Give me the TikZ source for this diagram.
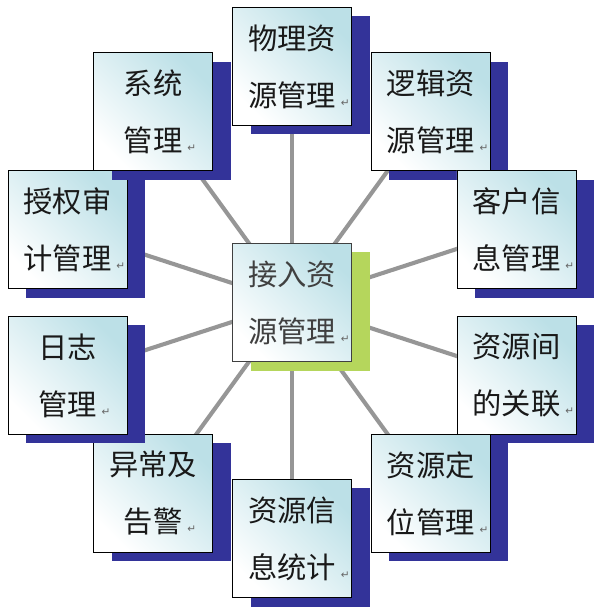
\documentclass[tikz,border=0pt]{standalone}
\usepackage{fontspec}
\newfontfamily\cjk{Noto Sans CJK SC}
\newfontfamily\dejavu{DejaVu Sans}
\usetikzlibrary{shadows,backgrounds}

\definecolor{shadowblue}{RGB}{51,51,153}
\definecolor{shadowgreen}{RGB}{181,214,92}
\definecolor{boxcyan}{RGB}{188,224,231}
\definecolor{spokegray}{RGB}{150,150,150}

% Word-style paragraph mark after the last line
\newcommand{\retmark}{\rlap{\,\textcolor{black!60}{\dejavu\fontsize{9}{9}\selectfont ↵}}}

\tikzset{
  basebox/.style={draw=black, line width=0.6pt, top color=boxcyan, bottom color=white,
    shading angle=-45, minimum width=3.57cm, minimum height=3.54cm,
    inner xsep=0.435cm, text width=2.7cm, align=center,
    font=\cjk\fontsize{25}{48.6}\selectfont},
  modbox/.style={basebox, text=black!90,
    drop shadow={fill=shadowblue, opacity=1, shadow xshift=0.54cm, shadow yshift=-0.27cm}},
  corebox/.style={basebox, draw=black!75, text=black!75,
    drop shadow={fill=shadowgreen, opacity=1, shadow xshift=0.54cm, shadow yshift=-0.27cm}},
  spoke/.style={spokegray, line width=3.5pt},
}

\begin{document}
\begin{tikzpicture}[x=0.03cm, y=0.03cm]
  \useasboundingbox (0,0) rectangle (599,613);

  % Outer modules on a circle
  \coordinate (hub) at (292,310.5);
  \foreach \a/\txt [count=\i] in {90/{物理资\\源管理}, 54/{逻辑资\\源管理}, 18/{客户信\\息管理},
      -18/{资源间\\的关联}, -54/{资源定\\位管理}, -90/{资源信\\息统计}, -126/{异常及\\告警},
      -162/{日志\\管理}, 162/{授权审\\计管理}, 126/{系统\\管理}}
    \node[modbox] (b\i) at ([shift={(\a:236)}]hub) {\txt\retmark};

  % Central module
  \node[corebox] (core) at (hub) {接入资\\源管理\retmark};

  % Spokes behind the boxes
  \begin{scope}[on background layer]
    \foreach \i in {1,...,10}
      \draw[spoke] (core.center) -- (b\i.center);
  \end{scope}
\end{tikzpicture}
\end{document}
